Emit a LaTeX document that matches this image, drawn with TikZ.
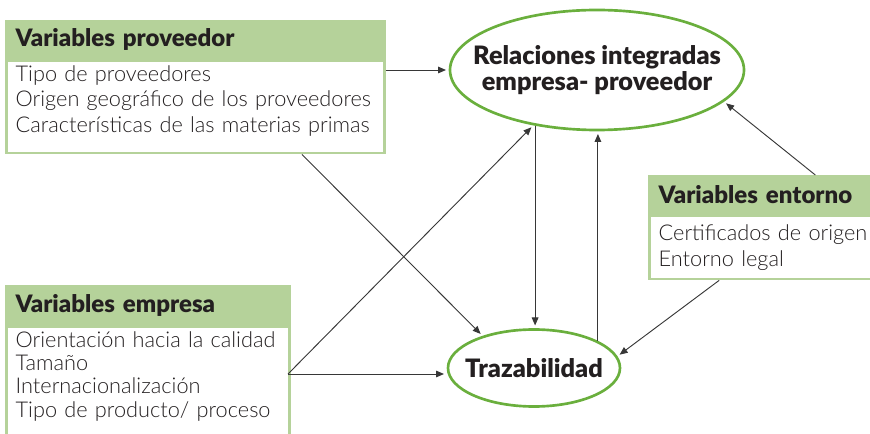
\documentclass[tikz,border=0pt]{standalone}
\usepackage{fontspec}
\setmainfont{Lato}[UprightFont={Lato Light}, BoldFont={Lato Black}]
\usetikzlibrary{positioning,arrows.meta,calc,shapes.geometric}

\definecolor{hdrgreen}{RGB}{181,210,154}
\definecolor{ovalgreen}{RGB}{106,175,61}
\definecolor{inkdark}{RGB}{35,31,32}
\definecolor{linkgray}{RGB}{55,55,55}

\tikzset{
  hdr/.style={rectangle, fill=hdrgreen, draw=hdrgreen, line width=2pt,
    inner xsep=7pt, align=left, text=inkdark,
    font=\fontsize{18}{19}\selectfont\bfseries},
  vars/.style={rectangle, fill=white, draw=hdrgreen, line width=2pt,
    inner xsep=7pt, align=left, text=inkdark,
    font=\fontsize{16.3}{19.2}\selectfont},
  oval/.style={ellipse, draw=ovalgreen, line width=2pt, align=center,
    inner ysep=0pt, text=inkdark,
    font=\fontsize{19}{19.5}\selectfont\bfseries},
  link/.style={draw=linkgray, line width=0.7pt,
    -{Triangle[length=6pt,width=5pt]}, shorten >=2pt}
}

\begin{document}
\begin{tikzpicture}[x=0.75pt,y=-0.75pt]
  \useasboundingbox (0,0) rectangle (870,434);

  % boxes of variables
  \node[hdr, anchor=north west, text width=269.5pt, minimum height=27.75pt]
    (provhead) at (5,20) {Variables proveedor};
  \node[vars, below=0pt of provhead, text width=269.5pt, text depth=50.5pt]
    (prov) {Tipo de proveedores\\Origen geográfico de los proveedores\\Características de las materias primas};

  \node[hdr, anchor=north west, text width=198.25pt, minimum height=28.5pt]
    (emphead) at (5,285) {Variables empresa};
  \node[vars, below=0pt of emphead, text width=198.25pt, text depth=68pt,
    font=\fontsize{16.3}{17.5}\selectfont]
    (emp) {Orientación hacia la calidad\\Tamaño\\Internacionalización\\Tipo de producto/ proceso};

  \node[hdr, anchor=north west, text width=162pt, minimum height=27.75pt]
    (enthead) at (648,175) {Variables entorno};
  \node[vars, below=0pt of enthead, text width=162pt, minimum height=47.25pt]
    (ent) {Certificados de origen\\Entorno legal};

  % ovals
  \node[oval, inner xsep=-20pt, minimum width=220.5pt, minimum height=90pt]
    (rel) at (597,70) {Relaciones integradas\\empresa- proveedor};
  \node[oval, inner xsep=-10pt, minimum width=129pt, minimum height=57.75pt]
    (traz) at (534,368) {Trazabilidad};

  \coordinate (empout) at (288,374);

  % connectors
  \draw[link] (prov.east |- rel.west) -- (rel.west);
  \draw[link] ($(prov.south west)!0.78!(prov.south east)$) -- (traz.148);
  \draw[link] (empout) -- (empout -| traz.west);
  \draw[link] (empout) -- (rel.221);
  \draw[link] (rel.222) -- (rel.222 |- traz.north);
  \draw[link] (traz.23) -- (traz.23 |- rel.south);
  \draw[link] ($(enthead.north west)!0.705!(enthead.north east)$) -- (rel.-14);
  \draw[link] ($(ent.south west)!0.30!(ent.south east)$) -- (traz.8);
\end{tikzpicture}
\end{document}
